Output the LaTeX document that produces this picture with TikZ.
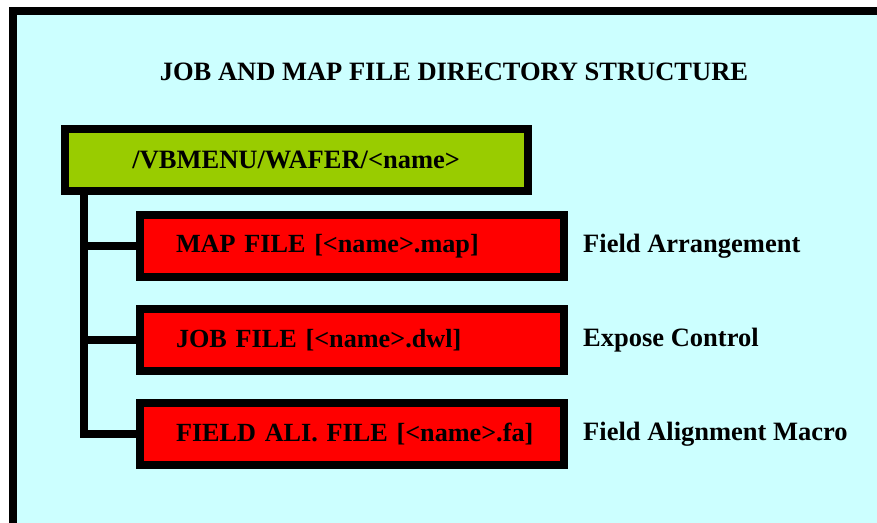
\documentclass[tikz,border=0pt]{standalone}
\usepackage{fontspec}
\setmainfont{Liberation Serif}
\usepackage{xcolor}
\usepackage{tikz}
\usetikzlibrary{positioning}
\definecolor{bgcyan}{RGB}{204,255,255}
\definecolor{wafergreen}{RGB}{153,204,0}
\definecolor{filered}{RGB}{255,0,0}
\newcommand{\diagfont}{\fontsize{26.5}{30}\selectfont\bfseries}
\newcommand{\filefont}{\fontsize{26.2}{30}\selectfont\bfseries}

\begin{document}
\begin{tikzpicture}[x=1pt,y=-1pt,
    dirbox/.style={draw,line width=8pt,fill=wafergreen,minimum width=462.5pt,minimum height=62pt,font=\diagfont},
    filebox/.style={draw,line width=8pt,fill=filered,minimum width=424pt,minimum height=62pt,
      inner xsep=36pt,text width=352pt,align=left,font=\filefont},
    desc/.style={inner sep=0pt,anchor=west,font=\diagfont},
    tree/.style={line width=8pt,line join=miter}]
  \useasboundingbox (0,0) rectangle (877,522);
  \clip (0,0) rectangle (877,522);
  \draw[line width=8pt,fill=bgcyan] (13,11) rectangle (900,545);
  \path
    (454,80) node[anchor=base,font=\diagfont] (title) {JOB AND MAP FILE DIRECTORY STRUCTURE}
    (296.25,160) node[dirbox] (wafer) {/VBMENU/WAFER/<name>}
    (352,246) node[filebox] (mapfile) {\mbox{MAP FILE [<name>.map]}}
    (352,340) node[filebox] (jobfile) {\mbox{JOB FILE [<name>.dwl]}}
    (352,434) node[filebox] (alifile) {\mbox{FIELD ALI. FILE [<name>.fa]}};
  \node[desc,right=15pt of mapfile] (mapdesc) {Field Arrangement};
  \node[desc,right=15pt of jobfile] (jobdesc) {Expose Control};
  \node[desc,right=15pt of alifile] (alidesc) {Field Alignment Macro};
  \coordinate (trunk) at ([xshift=23pt]wafer.south west);
  \draw[tree] (trunk) |- (alifile.west);
  \draw[tree] (mapfile.west -| trunk) -- (mapfile.west);
  \draw[tree] (jobfile.west -| trunk) -- (jobfile.west);
\end{tikzpicture}
\end{document}
